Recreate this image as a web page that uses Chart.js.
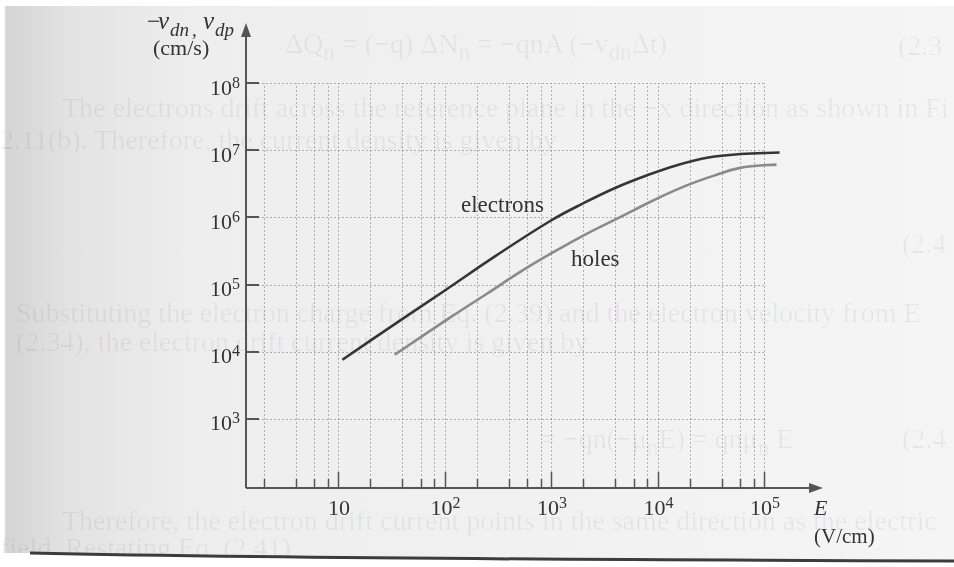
<!DOCTYPE html>
<html>
<head>
<meta charset="utf-8">
<script src="https://cdn.jsdelivr.net/npm/chart.js@4.4.0/dist/chart.umd.min.js"></script>
<style>
html, body { margin: 0; padding: 0; }
body {
    width: 954px; height: 567px; overflow: hidden; position: relative;
    background: linear-gradient(to right, #ffffff 0px, #ffffff 4px, #d4d4d4 6px, #e3e3e3 70px, #eeeeee 200px, #f5f5f5 954px);
}
#topband { position: absolute; left: 0; top: 0; width: 954px; height: 6px; background: #fff; }
.ghost {
    position: absolute; font-family: "Liberation Serif", serif; font-size: 28px;
    color: rgba(0, 0, 0, 0.06); white-space: nowrap;
}
#wrap { position: absolute; left: 0; top: 0; width: 954px; height: 567px; }
#edge { position: absolute; left: 0; top: 0; }
</style>
</head>
<body>
<div id="topband"></div>
<div class="ghost" style="left:285px;top:28px;">ΔQ<sub>n</sub> = (−q) ΔN<sub>n</sub> = −qnA (−v<sub>dn</sub>Δt)</div>
<div class="ghost" style="left:898px;top:30px;">(2.3</div>
<div class="ghost" style="left:62px;top:92px;">The electrons drift across the reference plane in the −x direction as shown in Fi</div>
<div class="ghost" style="left:0px;top:124px;">2.11(b). Therefore, the current density is given by</div>
<div class="ghost" style="left:902px;top:228px;">(2.4</div>
<div class="ghost" style="left:16px;top:297px;">Substituting the electron charge from Eq. (2.39) and the electron velocity from E</div>
<div class="ghost" style="left:16px;top:326px;">(2.34), the electron drift current density is given by</div>
<div class="ghost" style="left:540px;top:423px;">= −qn(−μ<sub>n</sub>E) = qnμ<sub>n</sub> E</div>
<div class="ghost" style="left:902px;top:423px;">(2.4</div>
<div class="ghost" style="left:62px;top:505px;">Therefore, the electron drift current points in the same direction as the electric</div>
<div class="ghost" style="left:0px;top:532px;">field. Restating Eq. (2.41)</div>
<div id="wrap"><canvas id="velocityChart"></canvas></div>
<svg id="edge" width="954" height="567">
    <path d="M 30 553 Q 300 559 954 561 L 954 567 L 0 567 L 0 553 Z" fill="#ffffff"/>
    <path d="M 30 553 Q 300 559 954 561" stroke="#3c3c3c" stroke-width="3" fill="none"/>
</svg>
<script>
// electric field (V/cm) and drift velocity (cm/s)
var electronE = [11, 30, 100, 300, 1000, 2000, 4000, 8000, 15000, 30000, 60000, 140000];
var electronV = [7.6e3, 2.25e4, 8.1e4, 2.65e5, 9.0e5, 1.62e6, 2.75e6, 4.25e6, 5.95e6, 7.8e6, 8.8e6, 9.25e6];
var holeE = [34, 120, 250, 510, 1050, 2160, 4450, 9100, 18800, 38600, 55500, 79400, 131000];
var holeV = [9.0e3, 3.44e4, 7.3e4, 1.53e5, 3.03e5, 5.7e5, 1.01e6, 1.79e6, 3.0e6, 4.5e6, 5.33e6, 5.83e6, 6.12e6];

var xDecades = [1, 2, 3, 4, 5];
var yDecades = [3, 4, 5, 6, 7, 8];
var minorSteps = [2, 4, 6, 8];

var serif = '"Liberation Serif", "Times New Roman", serif';

function toPoints(xs, ys) {
    return xs.map(function (x, i) { return { x: x, y: ys[i] }; });
}

// x grid values: 2,4,6,8 x 10^n and the decades themselves
function xGridValues() {
    var vals = [];
    for (var n = 0; n <= 4; n++) {
        minorSteps.forEach(function (m) { vals.push(m * Math.pow(10, n)); });
        vals.push(Math.pow(10, n + 1));
    }
    return vals;
}

function drawPower(ctx, exp, x, y, align) {
    var base = '10';
    var sup = exp === 1 ? '' : String(exp);
    ctx.font = '22px ' + serif;
    var wb = ctx.measureText(base).width;
    ctx.font = '16px ' + serif;
    var ws = ctx.measureText(sup).width;
    var total = wb + ws;
    var left = align === 'right' ? x - total : x - total / 2;
    ctx.textAlign = 'left';
    ctx.textBaseline = 'alphabetic';
    ctx.font = '22px ' + serif;
    ctx.fillText(base, left, y);
    if (sup) {
        ctx.font = '16px ' + serif;
        ctx.fillText(sup, left + wb, y - 7);
    }
}

var paperAxes = {
    id: 'paperAxes',
    beforeDatasetsDraw: function (chart) {
        var ctx = chart.ctx, xs = chart.scales.x, ys = chart.scales.y;
        var area = chart.chartArea;
        var yTop = ys.getPixelForValue(1e8);
        var xRight = xs.getPixelForValue(1e5);
        ctx.save();
        ctx.strokeStyle = 'rgba(110,110,110,0.5)';
        ctx.lineWidth = 1;
        ctx.setLineDash([2, 2]);
        xGridValues().forEach(function (v) {
            var px = Math.round(xs.getPixelForValue(v)) + 0.5;
            ctx.beginPath();
            ctx.moveTo(px, area.bottom);
            ctx.lineTo(px, yTop);
            ctx.stroke();
        });
        yDecades.forEach(function (d) {
            var py = Math.round(ys.getPixelForValue(Math.pow(10, d))) + 0.5;
            ctx.beginPath();
            ctx.moveTo(area.left, py);
            ctx.lineTo(xRight, py);
            ctx.stroke();
        });
        ctx.restore();
    },
    afterDatasetsDraw: function (chart) {
        var ctx = chart.ctx, xs = chart.scales.x, ys = chart.scales.y;
        var area = chart.chartArea;
        ctx.save();
        ctx.strokeStyle = '#555';
        ctx.fillStyle = '#555';
        ctx.lineWidth = 2;

        // axes
        ctx.beginPath();
        ctx.moveTo(area.left, area.bottom);
        ctx.lineTo(area.left, area.top + 6);
        ctx.moveTo(area.left, area.bottom);
        ctx.lineTo(area.right - 6, area.bottom);
        ctx.stroke();

        // arrow heads
        ctx.beginPath();
        ctx.moveTo(area.left, area.top - 2);
        ctx.lineTo(area.left - 5, area.top + 12);
        ctx.lineTo(area.left + 5, area.top + 12);
        ctx.closePath();
        ctx.fill();
        ctx.beginPath();
        ctx.moveTo(area.right, area.bottom);
        ctx.lineTo(area.right - 14, area.bottom - 5);
        ctx.lineTo(area.right - 14, area.bottom + 5);
        ctx.closePath();
        ctx.fill();

        // x tick marks
        xGridValues().forEach(function (v) {
            var px = Math.round(xs.getPixelForValue(v)) + 0.5;
            var major = Math.abs(Math.log10(v) - Math.round(Math.log10(v))) < 1e-9;
            ctx.lineWidth = 1.5;
            ctx.beginPath();
            ctx.moveTo(px, area.bottom);
            ctx.lineTo(px, area.bottom - (major ? 16 : 9));
            ctx.stroke();
        });
        // y tick marks
        yDecades.forEach(function (d) {
            var py = Math.round(ys.getPixelForValue(Math.pow(10, d)));
            ctx.lineWidth = 2;
            ctx.beginPath();
            ctx.moveTo(area.left, py);
            ctx.lineTo(area.left + 13, py);
            ctx.stroke();
        });

        // tick labels
        ctx.fillStyle = '#333';
        yDecades.forEach(function (d) {
            var py = ys.getPixelForValue(Math.pow(10, d));
            drawPower(ctx, d, area.left - 6, py + 11.5, 'right');
        });
        xDecades.forEach(function (d) {
            var px = xs.getPixelForValue(Math.pow(10, d));
            drawPower(ctx, d, px + 1, area.bottom + 27, 'center');
        });

        // axis titles
        ctx.textAlign = 'left';
        ctx.textBaseline = 'alphabetic';
        var parts = [
            ['−', '24px ' + serif, 147, 29],
            ['v', 'italic 25px ' + serif, 158, 29],
            ['dn', 'italic 19px ' + serif, 170, 36],
            [',', '19px ' + serif, 192, 36],
            ['v', 'italic 25px ' + serif, 203, 29],
            ['dp', 'italic 19px ' + serif, 215, 36]
        ];
        parts.forEach(function (p) {
            ctx.font = p[1];
            ctx.fillText(p[0], p[2], p[3]);
        });
        ctx.font = '22px ' + serif;
        ctx.fillText('(cm/s)', 153, 55);

        ctx.font = 'italic 22px ' + serif;
        ctx.fillText('E', 814, 515);
        ctx.font = '21px ' + serif;
        ctx.fillText('(V/cm)', 814, 543);

        // curve labels
        ctx.font = '23px ' + serif;
        ctx.fillText('electrons', 461, 212);
        ctx.fillText('holes', 571, 266);
        ctx.restore();
    }
};

var ctx = document.getElementById('velocityChart').getContext('2d');
var velocityChart = new Chart(ctx, {
    type: 'line',
    data: {
        datasets: [{
            label: 'electrons',
            data: toPoints(electronE, electronV),
            borderColor: '#353535',
            borderWidth: 2.6,
            pointRadius: 0,
            tension: 0.4,
            fill: false
        }, {
            label: 'holes',
            data: toPoints(holeE, holeV),
            borderColor: '#8a8a8a',
            borderWidth: 2.6,
            pointRadius: 0,
            tension: 0.4,
            fill: false
        }]
    },
    options: {
        responsive: true,
        maintainAspectRatio: false,
        animation: false,
        layout: { padding: { left: 246, right: 131, top: 25, bottom: 79 } },
        plugins: { legend: { display: false }, tooltip: { enabled: false } },
        scales: {
            x: { type: 'logarithmic', min: 1.368, max: 358000, display: false },
            y: { type: 'logarithmic', min: 93.3, max: 7.35e8, display: false }
        }
    },
    plugins: [paperAxes]
});
</script>
</body>
</html>
